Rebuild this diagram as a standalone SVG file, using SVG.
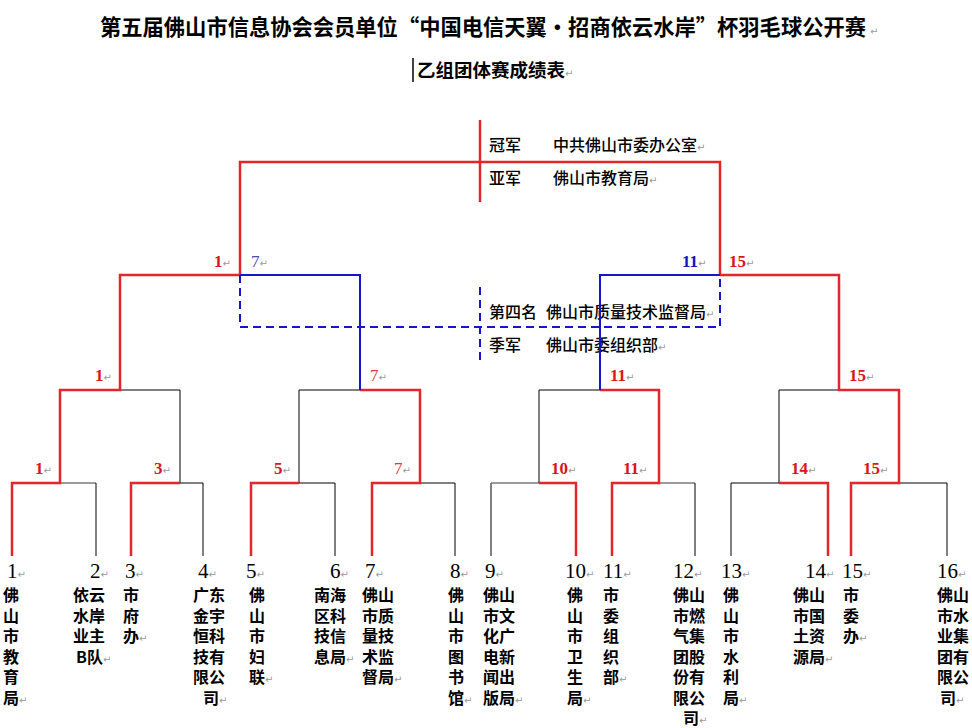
<svg xmlns="http://www.w3.org/2000/svg" width="972" height="728" viewBox="0 0 972 728">
<style>
.ttl{font-family:"Noto Sans CJK SC","Liberation Sans",sans-serif;font-weight:700;fill:#000}
.lbl{font-family:"Noto Sans CJK SC","Liberation Sans",sans-serif;font-size:16px;font-weight:500;fill:#000}
.nm{font-family:"Noto Sans CJK SC","Liberation Sans",sans-serif;font-size:16px;font-weight:700;fill:#000}
.num{font-family:"Liberation Serif",serif;font-size:21px;fill:#000}
.rl{font-family:"Liberation Serif",serif;font-size:17px;font-weight:700;fill:#d8161b}
.rl2{font-family:"Liberation Serif",serif;font-size:17px;fill:#e0383c}
.bl{font-family:"Liberation Serif",serif;font-size:17px;font-weight:700;fill:#1515c8}
.bl2{font-family:"Liberation Serif",serif;font-size:17px;fill:#4848c0}
.pm{font-family:"DejaVu Sans",sans-serif;font-size:10px;font-weight:400;fill:#9a9a9a}
.k{fill:none;stroke:#000;stroke-width:1}
.g{fill:none;stroke:#7a7a7a;stroke-width:1.5}
.r{fill:none;stroke:#e3262b;stroke-width:2.5}
.b{fill:none;stroke:#1515d0;stroke-width:2}
.bd{fill:none;stroke:#1515d0;stroke-width:2;stroke-dasharray:8 5}
</style>
<rect width="972" height="728" fill="#fff"/>
<g id="title">
<text class="ttl" x="100" y="35" font-size="22" textLength="766" lengthAdjust="spacingAndGlyphs">第五届佛山市信息协会会员单位“中国电信天翼·招商依云水岸”杯羽毛球公开赛</text>
<text class="pm" x="870" y="35">↵</text>
<line x1="413" y1="58" x2="413" y2="82" stroke="#000" stroke-width="1.5"/>
<text class="ttl" x="417" y="77" font-size="18.5">乙组团体赛成绩表<tspan class="pm">↵</tspan></text>
</g>
<g id="results">
<text class="lbl" x="489" y="151">冠军</text>
<text class="lbl" x="553" y="151">中共佛山市委办公室<tspan class="pm">↵</tspan></text>
<text class="lbl" x="489" y="184">亚军</text>
<text class="lbl" x="553" y="184">佛山市教育局<tspan class="pm">↵</tspan></text>
<text class="lbl" x="489" y="318">第四名</text>
<text class="lbl" x="546" y="318">佛山市质量技术监督局<tspan class="pm">↵</tspan></text>
<text class="lbl" x="489" y="351">季军</text>
<text class="lbl" x="546" y="351">佛山市委组织部<tspan class="pm">↵</tspan></text>
</g>
<g id="connectors">
<path class="g" d="M60,483H96"/>
<path class="k" d="M96,483V556"/>
<path class="k" d="M180,483H203V556M180,483V390H120"/>
<path class="k" d="M299,483H335V556M299,483V390H360"/>
<path class="k" d="M420,483H455V556"/>
<path class="k" d="M491,556V483"/>
<path class="g" d="M491,483H539"/>
<path class="k" d="M539,483V390H600"/>
<path class="g" d="M659,483H695"/>
<path class="k" d="M695,483V556"/>
<path class="k" d="M731,556V483H779M779,483V390H839"/>
<path class="k" d="M899,483H947V556"/>
<path class="r" d="M12,556V483H60V390H120V275H240"/>
<path class="r" d="M131,556V483H180"/>
<path class="r" d="M251,556V483H299"/>
<path class="r" d="M372,556V483H420V390H360"/>
<path class="r" d="M576,556V483H539"/>
<path class="r" d="M612,556V483H659V390H600"/>
<path class="r" d="M828,556V483H779"/>
<path class="r" d="M851,556V483H899V390H839V275H720"/>
<path class="r" d="M240,275V162H720V275"/>
<path class="r" d="M480,120V202"/>
<path class="b" d="M360,390V275H240"/>
<path class="b" d="M600,390V275H720"/>
<path class="bd" d="M240,275V327H720V275"/>
<path class="bd" d="M480,287V364"/>
</g>
<g id="round-labels">
<text class="rl" x="35" y="474">1<tspan class="pm">↵</tspan></text>
<text class="rl" x="154" y="474">3<tspan class="pm">↵</tspan></text>
<text class="rl" x="274" y="474">5<tspan class="pm">↵</tspan></text>
<text class="rl2" x="394" y="474">7<tspan class="pm">↵</tspan></text>
<text class="rl" x="551" y="474">10<tspan class="pm">↵</tspan></text>
<text class="rl" x="623" y="474">11<tspan class="pm">↵</tspan></text>
<text class="rl" x="791" y="474">14<tspan class="pm">↵</tspan></text>
<text class="rl" x="863" y="474">15<tspan class="pm">↵</tspan></text>
<text class="rl" x="95" y="381">1<tspan class="pm">↵</tspan></text>
<text class="rl2" x="370" y="381">7<tspan class="pm">↵</tspan></text>
<text class="rl" x="610" y="381">11<tspan class="pm">↵</tspan></text>
<text class="rl" x="849" y="381">15<tspan class="pm">↵</tspan></text>
<text class="rl" x="214" y="267">1<tspan class="pm">↵</tspan></text>
<text class="bl2" x="251" y="267">7<tspan class="pm">↵</tspan></text>
<text class="bl" x="682" y="267">11<tspan class="pm">↵</tspan></text>
<text class="rl" x="729" y="267">15<tspan class="pm">↵</tspan></text>
</g>
<g id="team-1"><text class="num" x="7" y="578">1<tspan class="pm">↵</tspan></text>
<text class="nm" x="3" y="601">佛<tspan x="3" dy="20.5">山</tspan><tspan x="3" dy="20.5">市</tspan><tspan x="3" dy="20.5">教</tspan><tspan x="3" dy="20.5">育</tspan><tspan x="3" dy="20.5">局</tspan><tspan class="pm">↵</tspan></text></g>
<g id="team-2"><text class="num" x="90" y="578">2<tspan class="pm">↵</tspan></text>
<text class="nm" x="73" y="601">依云<tspan x="73" dy="20.5">水岸</tspan><tspan x="73" dy="20.5">业主</tspan><tspan x="76" dy="20.5">B队</tspan><tspan class="pm">↵</tspan></text></g>
<g id="team-3"><text class="num" x="125" y="578">3<tspan class="pm">↵</tspan></text>
<text class="nm" x="123" y="601">市<tspan x="123" dy="20.5">府</tspan><tspan x="123" dy="20.5">办</tspan><tspan class="pm">↵</tspan></text></g>
<g id="team-4"><text class="num" x="198" y="578">4<tspan class="pm">↵</tspan></text>
<text class="nm" x="193" y="601">广东<tspan x="193" dy="20.5">金宇</tspan><tspan x="193" dy="20.5">恒科</tspan><tspan x="193" dy="20.5">技有</tspan><tspan x="193" dy="20.5">限公</tspan><tspan x="203" dy="20.5">司</tspan><tspan class="pm">↵</tspan></text></g>
<g id="team-5"><text class="num" x="246" y="578">5<tspan class="pm">↵</tspan></text>
<text class="nm" x="249" y="601">佛<tspan x="249" dy="20.5">山</tspan><tspan x="249" dy="20.5">市</tspan><tspan x="249" dy="20.5">妇</tspan><tspan x="249" dy="20.5">联</tspan><tspan class="pm">↵</tspan></text></g>
<g id="team-6"><text class="num" x="330" y="578">6<tspan class="pm">↵</tspan></text>
<text class="nm" x="314" y="601">南海<tspan x="314" dy="20.5">区科</tspan><tspan x="314" dy="20.5">技信</tspan><tspan x="314" dy="20.5">息局</tspan><tspan class="pm">↵</tspan></text></g>
<g id="team-7"><text class="num" x="365" y="578">7<tspan class="pm">↵</tspan></text>
<text class="nm" x="362" y="601">佛山<tspan x="362" dy="20.5">市质</tspan><tspan x="362" dy="20.5">量技</tspan><tspan x="362" dy="20.5">术监</tspan><tspan x="362" dy="20.5">督局</tspan><tspan class="pm">↵</tspan></text></g>
<g id="team-8"><text class="num" x="450" y="578">8<tspan class="pm">↵</tspan></text>
<text class="nm" x="448" y="601">佛<tspan x="448" dy="20.5">山</tspan><tspan x="448" dy="20.5">市</tspan><tspan x="448" dy="20.5">图</tspan><tspan x="448" dy="20.5">书</tspan><tspan x="448" dy="20.5">馆</tspan><tspan class="pm">↵</tspan></text></g>
<g id="team-9"><text class="num" x="485" y="578">9<tspan class="pm">↵</tspan></text>
<text class="nm" x="483" y="601">佛山<tspan x="483" dy="20.5">市文</tspan><tspan x="483" dy="20.5">化广</tspan><tspan x="483" dy="20.5">电新</tspan><tspan x="483" dy="20.5">闻出</tspan><tspan x="483" dy="20.5">版局</tspan><tspan class="pm">↵</tspan></text></g>
<g id="team-10"><text class="num" x="565" y="578">10<tspan class="pm">↵</tspan></text>
<text class="nm" x="567" y="601">佛<tspan x="567" dy="20.5">山</tspan><tspan x="567" dy="20.5">市</tspan><tspan x="567" dy="20.5">卫</tspan><tspan x="567" dy="20.5">生</tspan><tspan x="567" dy="20.5">局</tspan><tspan class="pm">↵</tspan></text></g>
<g id="team-11"><text class="num" x="603" y="578">11<tspan class="pm">↵</tspan></text>
<text class="nm" x="603" y="601">市<tspan x="603" dy="20.5">委</tspan><tspan x="603" dy="20.5">组</tspan><tspan x="603" dy="20.5">织</tspan><tspan x="603" dy="20.5">部</tspan><tspan class="pm">↵</tspan></text></g>
<g id="team-12"><text class="num" x="673" y="578">12<tspan class="pm">↵</tspan></text>
<text class="nm" x="673" y="601">佛山<tspan x="673" dy="20.5">市燃</tspan><tspan x="673" dy="20.5">气集</tspan><tspan x="673" dy="20.5">团股</tspan><tspan x="673" dy="20.5">份有</tspan><tspan x="673" dy="20.5">限公</tspan><tspan x="683" dy="20.5">司</tspan><tspan class="pm">↵</tspan></text></g>
<g id="team-13"><text class="num" x="721" y="578">13<tspan class="pm">↵</tspan></text>
<text class="nm" x="723" y="601">佛<tspan x="723" dy="20.5">山</tspan><tspan x="723" dy="20.5">市</tspan><tspan x="723" dy="20.5">水</tspan><tspan x="723" dy="20.5">利</tspan><tspan x="723" dy="20.5">局</tspan><tspan class="pm">↵</tspan></text></g>
<g id="team-14"><text class="num" x="805" y="578">14<tspan class="pm">↵</tspan></text>
<text class="nm" x="793" y="601">佛山<tspan x="793" dy="20.5">市国</tspan><tspan x="793" dy="20.5">土资</tspan><tspan x="793" dy="20.5">源局</tspan><tspan class="pm">↵</tspan></text></g>
<g id="team-15"><text class="num" x="842" y="578">15<tspan class="pm">↵</tspan></text>
<text class="nm" x="843" y="601">市<tspan x="843" dy="20.5">委</tspan><tspan x="843" dy="20.5">办</tspan><tspan class="pm">↵</tspan></text></g>
<g id="team-16"><text class="num" x="937" y="578">16<tspan class="pm">↵</tspan></text>
<text class="nm" x="937" y="601">佛山<tspan x="937" dy="20.5">市水</tspan><tspan x="937" dy="20.5">业集</tspan><tspan x="937" dy="20.5">团有</tspan><tspan x="937" dy="20.5">限公</tspan><tspan x="940" dy="20.5">司</tspan><tspan class="pm">↵</tspan></text></g>
</svg>
